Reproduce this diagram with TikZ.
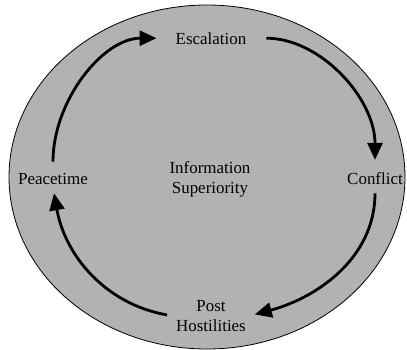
\documentclass[tikz,border=0pt]{standalone}
\usepackage{fontspec}
\setmainfont{Liberation Serif}
\usetikzlibrary{arrows.meta}
\tikzset{
  phase/.style={font=\fontsize{17}{20}\selectfont, inner sep=3pt, align=center},
  cycarrow/.style={line width=2.8bp, -{Triangle[length=17bp,width=15bp]}}
}

\begin{document}
\begin{tikzpicture}[x=1bp, y=-1bp]
    \useasboundingbox (0,0) rectangle (407,350); % Fixes the margins...

    \draw [fill=black!30, line width=0.8bp] (207,177) ellipse [x radius=198, y radius=172];

    \node[phase, anchor=base] (escalation) at (211,44) {Escalation};
    \node[phase, anchor=base] (conflict) at (375,184) {Conflict};
    \node[phase, anchor=base] (peacetime) at (53,184) {Peacetime};
    \node[phase] (posthost) at (211,316) {Post\\Hostilities};
    \node[phase] (infosup) at (210,179) {Information\\Superiority};

    \draw [cycarrow, shorten <=8bp, shorten >=16bp] (peacetime.north) to[out=90, in=180] (escalation.west);
    \draw [cycarrow, shorten <=17bp, shorten >=9bp] (escalation.east) to[out=0, in=90] (conflict.north);
    \draw [cycarrow, shorten <=6bp, shorten >=6bp] (conflict.south) to[out=-90, in=15] (posthost.east);
    \draw [cycarrow, shorten <=6bp, shorten >=6bp] (posthost.west) to[out=170, in=-80] (peacetime.south);
\end{tikzpicture}
\end{document}
